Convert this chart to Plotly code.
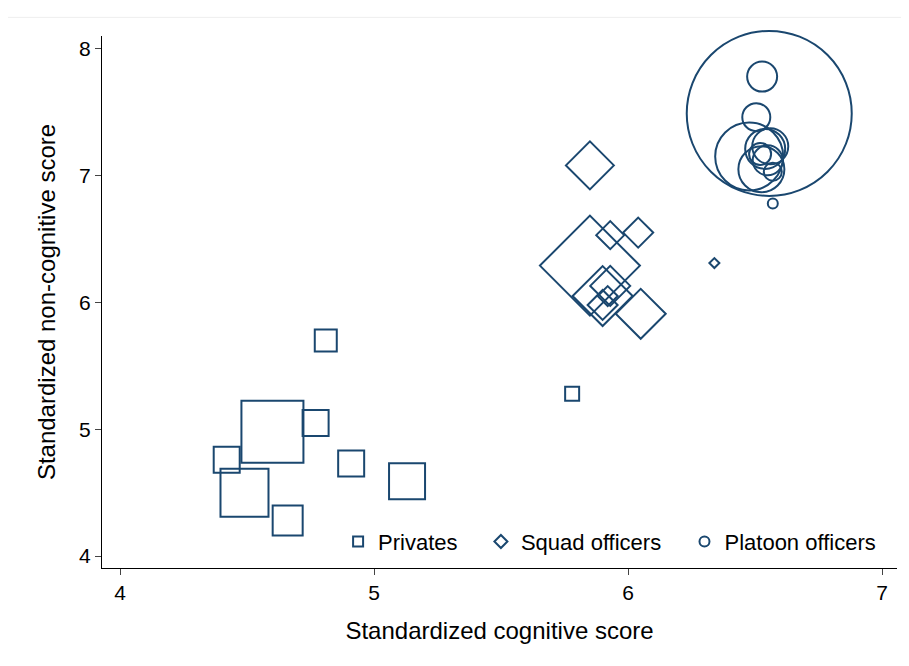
import plotly.graph_objects as go

C = "#1a476f"
priv_x = [4.81, 4.42, 4.60, 4.77, 4.49, 4.66, 4.91, 5.13, 5.78]
priv_y = [5.70, 4.76, 4.98, 5.05, 4.50, 4.28, 4.73, 4.59, 5.28]
priv_s = [22, 26, 62, 26, 48, 30, 26, 36, 14]

squad_x = [5.85, 5.93, 6.04, 5.85, 5.90, 5.93, 5.90, 6.05, 5.92, 6.34]
squad_y = [7.08, 6.53, 6.55, 6.29, 6.05, 6.13, 5.98, 5.91, 6.05, 6.31]
squad_s = [48, 28, 30, 100, 60, 40, 30, 50, 20, 10]

plat_x = [6.556, 6.528, 6.505, 6.477, 6.54, 6.56, 6.525, 6.52, 6.57, 6.57, 6.55]
plat_y = [7.49, 7.78, 7.46, 7.15, 7.21, 7.23, 7.05, 7.17, 7.03, 6.78, 7.12]
plat_s = [165, 30, 28, 68, 40, 36, 46, 22, 18, 10, 30]

PAD = "\u00a0" * 3
fig = go.Figure()
def add(x, y, s, sym, name, scale, pad):
    fig.add_trace(go.Scatter(x=x, y=y, mode="markers", showlegend=False, cliponaxis=False,
        marker=dict(symbol=sym, size=[v*scale for v in s], color=C, opacity=1,
                    line=dict(color=C, width=2))))
    fig.add_trace(go.Scatter(x=[None], y=[None], mode="markers", name=name + pad,
        marker=dict(symbol=sym, size=10, color=C, opacity=1, line=dict(color=C, width=2))))
add(priv_x, priv_y, priv_s, "square-open", "Privates", 1.0, PAD)
add(squad_x, squad_y, squad_s, "diamond-open", "Squad officers", 1/1.3, PAD)
add(plat_x, plat_y, plat_s, "circle-open", "Platoon officers", 1.0, "")

fig.update_layout(
    width=901, height=658, paper_bgcolor="white", plot_bgcolor="white",
    margin=dict(l=94, r=12, t=28, b=98),
    font=dict(family="Liberation Sans, Arial", size=21, color="black"),
    legend=dict(orientation="h", x=0.98, xanchor="right", y=0.01, yanchor="bottom",
                bgcolor="rgba(0,0,0,0)", font=dict(size=22), itemwidth=30),
    xaxis=dict(range=[3.929, 7.059], tickvals=[4, 5, 6, 7], showgrid=False, zeroline=False,
               automargin=False,
               showline=True, linecolor="black", linewidth=1, ticks="outside", ticklen=6,
               title=dict(text="Standardized cognitive score", font=dict(size=24), standoff=18)),
    yaxis=dict(range=[3.906, 8.1], tickvals=[4, 5, 6, 7, 8], showgrid=False, zeroline=False,
               automargin=False,
               showline=True, linecolor="black", linewidth=1, ticks="outside", ticklen=6,
               title=dict(text="Standardized non-cognitive score", font=dict(size=24), standoff=16)),
)
fig.add_shape(type="line", xref="paper", yref="paper", x0=-0.13, x1=1.02, y0=1.035, y1=1.035,
              line=dict(color="#eeeeee", width=1))
fig.write_html("out.html")
